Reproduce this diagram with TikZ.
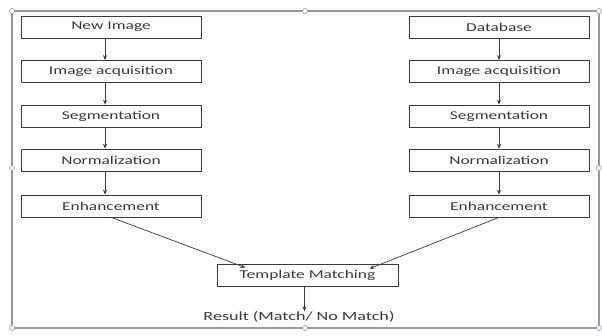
\documentclass[tikz,border=0pt]{standalone}
\usepackage{fontspec}
\setmainfont{Carlito}[FakeStretch=1.45]
\usetikzlibrary{arrows.meta}
\definecolor{frame}{HTML}{8E9AAA}
\definecolor{ink}{HTML}{3A3A3A}
\tikzset{
  stepbox/.style={draw=ink, line width=0.7pt, minimum width=180pt, minimum height=22pt, inner sep=0pt, text=ink, font=\fontsize{12}{14}\selectfont},
  flow/.style={draw=ink, line width=0.7pt, -{Stealth[length=5pt,width=4pt]}},
  handle/.style={draw=frame, fill=white, line width=0.6pt, circle, inner sep=0pt, minimum size=5pt}
}
\begin{document}
\begin{tikzpicture}[x=1pt,y=-1pt]
\useasboundingbox (0,0) rectangle (602,335);
\fill[white] (0,0) rectangle (602,335);
% frame
\draw[frame, line width=1.5pt] (12,11) rectangle (599,328);
\foreach \p [count=\i] in {(12,11),(305,11),(599,11),(12,168),(599,168),(12,328),(305,328),(599,328)}
  \node[handle] (h\i) at \p {};
% left column
\node[stepbox] (l1) at (111,27) {New Image};
\node[stepbox] (l2) at (111,71.5) {Image acquisition};
\node[stepbox] (l3) at (111,116) {Segmentation};
\node[stepbox] (l4) at (111,160) {Normalization};
\node[stepbox] (l5) at (111,206) {Enhancement};
% right column
\node[stepbox] (r1) at (499,27) {Database};
\node[stepbox] (r2) at (499,71.5) {Image acquisition};
\node[stepbox] (r3) at (499,116) {Segmentation};
\node[stepbox] (r4) at (499,160) {Normalization};
\node[stepbox] (r5) at (499,206) {Enhancement};
% bottom
\node[stepbox, minimum width=181pt] (tm) at (307.5,275) {Template Matching};
\node[text=ink, inner sep=1pt, font=\fontsize{12.5}{14}\selectfont] (res) at (299,317) {Result (Match/ No Match)};
% arrows
\foreach \a/\b in {l1/l2,l2/l3,l3/l4,l4/l5}
  \draw[flow] ([xshift=-6pt]\a.south) -- ([xshift=-6pt]\b.north);
\foreach \a/\b in {r1/r2,r2/r3,r3/r4,r4/r5}
  \draw[flow] (\a.south) -- (\b.north);
\draw[flow] (l5.south) -- ([xshift=-62pt,yshift=-4pt]tm.north);
\draw[flow] (r5.south) -- ([xshift=62pt,yshift=-5pt]tm.north);
\draw[flow] ([xshift=-3pt]tm.south) -- ([xshift=-3pt,yshift=-1pt]tm.south |- res.north);
\end{tikzpicture}
\end{document}
